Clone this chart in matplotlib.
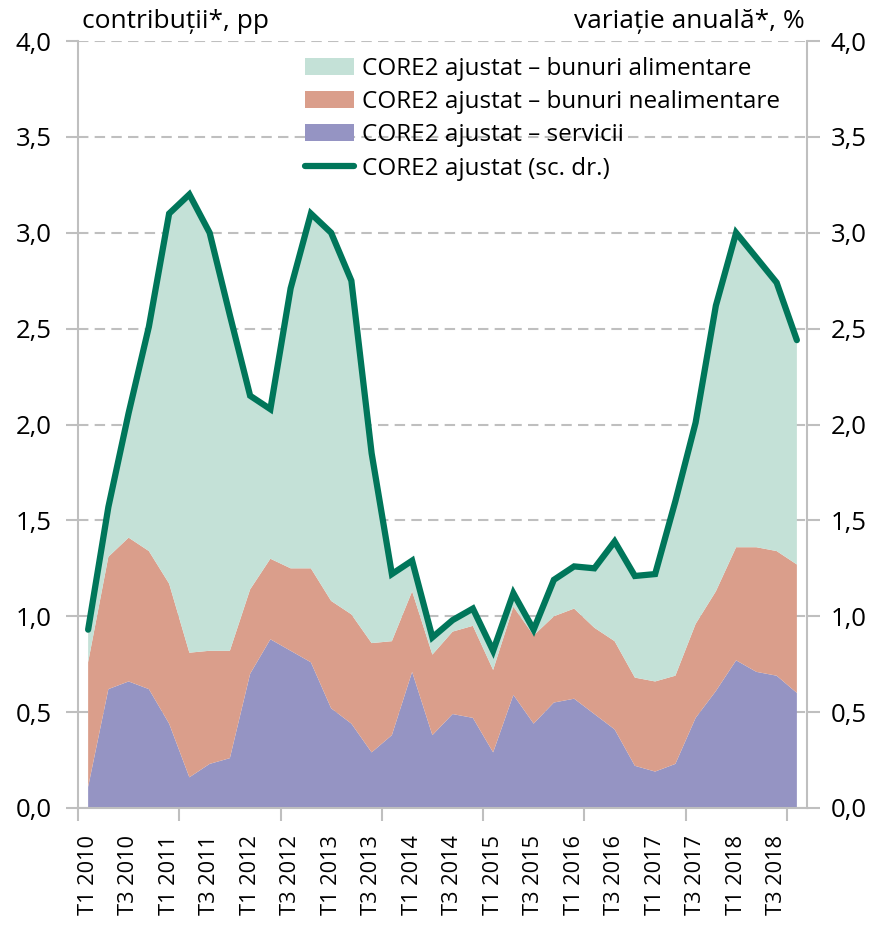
import matplotlib
matplotlib.use('Agg')
import matplotlib.pyplot as plt
import numpy as np
from matplotlib.patches import Patch
from matplotlib.lines import Line2D

plt.rcParams['font.family'] = ['Open Sans', 'DejaVu Sans']

quarters = ['T1 2010', 'T2 2010', 'T3 2010', 'T4 2010',
            'T1 2011', 'T2 2011', 'T3 2011', 'T4 2011',
            'T1 2012', 'T2 2012', 'T3 2012', 'T4 2012',
            'T1 2013', 'T2 2013', 'T3 2013', 'T4 2013',
            'T1 2014', 'T2 2014', 'T3 2014', 'T4 2014',
            'T1 2015', 'T2 2015', 'T3 2015', 'T4 2015',
            'T1 2016', 'T2 2016', 'T3 2016', 'T4 2016',
            'T1 2017', 'T2 2017', 'T3 2017', 'T4 2017',
            'T1 2018', 'T2 2018', 'T3 2018', 'T4 2018']

services = [0.11, 0.62, 0.66, 0.62, 0.44, 0.16, 0.23, 0.26, 0.70, 0.88, 0.82, 0.76,
            0.52, 0.44, 0.29, 0.38, 0.71, 0.38, 0.49, 0.47, 0.29, 0.59, 0.44, 0.55,
            0.57, 0.49, 0.41, 0.22, 0.19, 0.23, 0.47, 0.61, 0.77, 0.71, 0.69, 0.60]
nonfood = [0.65, 0.69, 0.75, 0.72, 0.73, 0.65, 0.59, 0.56, 0.44, 0.42, 0.43, 0.49,
           0.56, 0.57, 0.57, 0.49, 0.42, 0.42, 0.43, 0.48, 0.43, 0.46, 0.46, 0.45,
           0.47, 0.45, 0.46, 0.46, 0.47, 0.46, 0.49, 0.52, 0.59, 0.65, 0.65, 0.67]
food = [0.17, 0.27, 0.66, 1.17, 1.93, 2.40, 2.19, 1.75, 1.01, 0.78, 1.46, 1.86,
        1.92, 1.73, 0.98, 0.35, 0.16, 0.10, 0.06, 0.09, 0.11, 0.07, 0.03, 0.19,
        0.22, 0.30, 0.53, 0.53, 0.56, 0.91, 1.04, 1.49, 1.64, 1.51, 1.40, 1.17]
total = [0.93, 1.57, 2.06, 2.51, 3.10, 3.20, 3.00, 2.57, 2.15, 2.08, 2.71, 3.10,
         3.00, 2.75, 1.85, 1.22, 1.29, 0.89, 0.98, 1.04, 0.82, 1.12, 0.93, 1.19,
         1.26, 1.25, 1.39, 1.21, 1.22, 1.60, 2.01, 2.62, 3.00, 2.87, 2.74, 2.44]

yticks = [0.0, 0.5, 1.0, 1.5, 2.0, 2.5, 3.0, 3.5, 4.0]
ytick_labels = ['0,0', '0,5', '1,0', '1,5', '2,0', '2,5', '3,0', '3,5', '4,0']

series_labels = ['CORE2 ajustat \u2013 bunuri alimentare',
                 'CORE2 ajustat \u2013 bunuri nealimentare',
                 'CORE2 ajustat \u2013 servicii',
                 'CORE2 ajustat (sc. dr.)']

c_food = '#C4E1D7'
c_nonfood = '#DA9E8B'
c_serv = '#9594C3'
c_line = '#00765A'
c_axis = '#BFBFBF'
fs_y = 18.5
fs_x = 15.7
fs_leg = 17.5
fs_title = 19

fig = plt.figure(figsize=(8.76, 9.27), dpi=100)
ax = fig.add_axes([78/876, 1-808/927, (807-78)/876, (808-41)/927])
x = np.arange(len(quarters))

ax.stackplot(x, services, nonfood, food, colors=[c_serv, c_nonfood, c_food],
             linewidth=0, zorder=2)
ax.set_xlim(-0.5, len(quarters) - 0.5)
ax.set_ylim(0, 4)
ax.set_yticks(yticks)
ax.set_yticklabels(ytick_labels, fontsize=fs_y)
ax.yaxis.grid(True, linestyle=(0, (5, 3)), color=c_axis, linewidth=1.5, zorder=0)
ax.set_axisbelow(True)

ax.set_xticks(np.arange(-0.5, len(quarters), 5))
ax.set_xticklabels([])
ax.set_xticks(x[::2], [quarters[i] for i in x[::2]], minor=True)
ax.tick_params(axis='x', which='minor', length=0, pad=19.5, labelsize=fs_x, rotation=90)
ax.tick_params(axis='x', which='major', length=9, width=1.5, color=c_axis)
ax.tick_params(axis='y', length=9, width=1.5, color=c_axis, pad=10)

for s in ['top', 'right']:
    ax.spines[s].set_visible(False)
for s in ['left', 'bottom']:
    ax.spines[s].set_color(c_axis)
    ax.spines[s].set_linewidth(1.5)

ax2 = ax.twinx()
ax2.plot(x, total, color=c_line, linewidth=4.5, solid_capstyle='round',
         solid_joinstyle='miter', zorder=5)
ax2.set_ylim(0, 4)
ax2.set_yticks(yticks)
ax2.set_yticklabels(ytick_labels, fontsize=fs_y)
ax2.tick_params(axis='y', length=9, width=1.5, color=c_axis, pad=8)
for s in ['top', 'left', 'bottom']:
    ax2.spines[s].set_visible(False)
ax2.spines['right'].set_color(c_axis)
ax2.spines['right'].set_linewidth(1.5)

handles = [Patch(facecolor=c_food, edgecolor='none'),
           Patch(facecolor=c_nonfood, edgecolor='none'),
           Patch(facecolor=c_serv, edgecolor='none'),
           Line2D([0], [0], color=c_line, linewidth=4.5, solid_capstyle='round')]
ax2.legend(handles, series_labels, loc='upper left',
           bbox_to_anchor=(305/876, 1-57/927), bbox_transform=fig.transFigure,
           frameon=False, fontsize=fs_leg, handlelength=2.0, handleheight=0.7,
           handletextpad=0.33, labelspacing=0.38, borderpad=0, borderaxespad=0)

fig.text(82/876, 1-22/927, 'contribuții*, pp', ha='left', va='center', fontsize=fs_title)
fig.text(805/876, 1-22/927, 'variație anuală*, %', ha='right', va='center', fontsize=fs_title)

fig.savefig('out.png', dpi=100)
